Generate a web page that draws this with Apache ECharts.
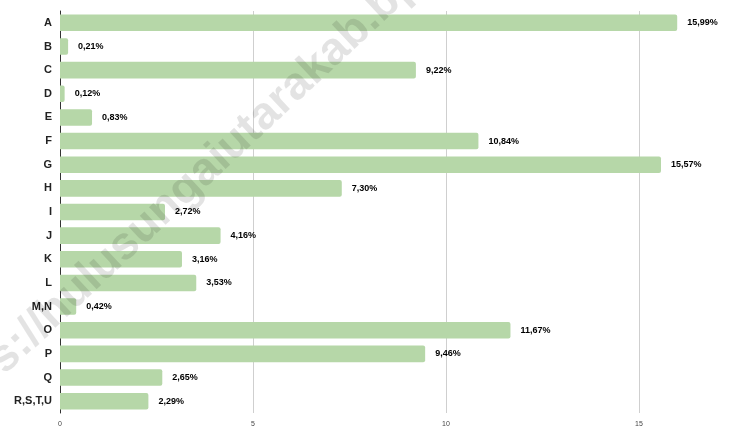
<!DOCTYPE html>
<html>
<head>
<meta charset="utf-8">
<script src="https://cdn.jsdelivr.net/npm/echarts@6/dist/echarts.min.js"></script>
<style>
  html, body { margin: 0; padding: 0; background: #fff; }
  #chart { width: 729px; height: 430px; }
</style>
</head>
<body>
<div id="chart"></div>
<script>
// data
const categories = ['A', 'B', 'C', 'D', 'E', 'F', 'G', 'H', 'I', 'J', 'K', 'L', 'M,N', 'O', 'P', 'Q', 'R,S,T,U'];
const shares = [15.99, 0.21, 9.22, 0.12, 0.83, 10.84, 15.57, 7.30, 2.72, 4.16, 3.16, 3.53, 0.42, 11.67, 9.46, 2.65, 2.29];
const xTicks = [0, 5, 10, 15];

const chart = echarts.init(document.getElementById('chart'));

const option = {
  animation: false,
  // plot runs past the right edge, like the cropped original
  grid: { left: 60, width: 772, top: 11, bottom: 17, containLabel: false, outerBoundsMode: 'none' },
  xAxis: {
    type: 'value',
    min: 0,
    max: 20,
    interval: 5,
    axisLine: { show: false },
    axisTick: { show: false },
    axisLabel: {
      fontSize: 7,
      color: '#444',
      margin: 8,
      fontFamily: 'Liberation Sans',
      formatter: v => (xTicks.indexOf(v) >= 0 ? String(v) : '')
    },
    splitLine: { lineStyle: { color: '#cfcfcf', width: 1 } }
  },
  yAxis: {
    type: 'category',
    inverse: true,
    data: categories,
    axisLine: { show: true, lineStyle: { color: '#333', width: 1 } },
    axisTick: { show: false },
    axisLabel: {
      fontSize: 11,
      fontWeight: 'bold',
      color: '#222',
      margin: 8,
      fontFamily: 'Liberation Sans'
    }
  },
  series: [{
    type: 'bar',
    data: shares,
    barCategoryGap: '30%',
    itemStyle: { color: '#b6d7a8', borderRadius: [0, 2, 2, 0] },
    label: {
      show: true,
      position: 'right',
      distance: 10,
      fontSize: 9,
      fontWeight: 'bold',
      color: '#000',
      fontFamily: 'Liberation Sans',
      formatter: p => p.value.toFixed(2).replace('.', ',') + '%'
    }
  }],
  graphic: [{
    type: 'text',
    x: -52,
    y: 442,
    rotation: 43 * Math.PI / 180,
    z: 100,
    style: {
      text: 'https://hulusungaiutarakab.bps.go.id',
      font: 'bold 46px "Liberation Sans"',
      fill: 'rgba(0,0,0,0.11)',
      textVerticalAlign: 'bottom'
    }
  }]
};

chart.setOption(option);
</script>
</body>
</html>
